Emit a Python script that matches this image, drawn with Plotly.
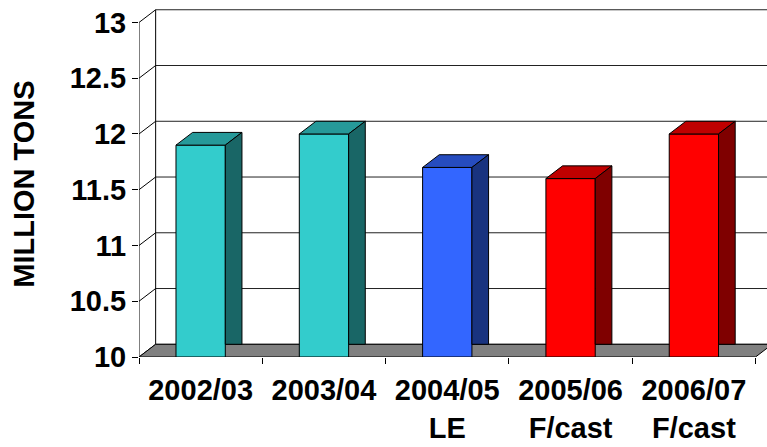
import plotly.graph_objects as go

# Chart data
seasons = ["2002/03", "2003/04", "2004/05", "2005/06", "2006/07"]
season_notes = ["", "", "LE", "F/cast", "F/cast"]
tonnes_m = [11.9, 12.0, 11.7, 11.6, 12.0]
bar_colors = ["#33CCCC", "#33CCCC", "#3366FF", "#FF0000", "#FF0000"]
y_ticks = [10, 10.5, 11, 11.5, 12, 12.5, 13]
y_tick_text = ["10", "10.5", "11", "11.5", "12", "12.5", "13"]

# Geometry of the 3D box (in axis units)
Y_MIN, Y_TOP, Y_MAX = 10, 13, 13.2015
X_MIN, X_MAX = -0.5, 4.593
DX, DY = 0.135, 0.114       # depth offset of walls and bars
HALF_W = 0.2                # half width of a bar front face
n = len(seasons)

FONT = dict(family="Liberation Sans, Arial, sans-serif", size=29, color="black", weight="bold")


def shade(hex_color, k):
    h = hex_color.lstrip("#")
    r, g, b = (int(h[i:i + 2], 16) for i in (0, 2, 4))
    return "#{:02X}{:02X}{:02X}".format(int(r * k), int(g * k), int(b * k))


fig = go.Figure()


def poly(xs, ys, fill, width=1):
    fig.add_trace(go.Scatter(
        x=list(xs) + [xs[0]], y=list(ys) + [ys[0]], mode="lines",
        fill="toself", fillcolor=fill, line=dict(color="black", width=width),
        hoverinfo="skip", showlegend=False))


def seg(xs, ys, color="black", width=1):
    fig.add_trace(go.Scatter(
        x=xs, y=ys, mode="lines", line=dict(color=color, width=width),
        hoverinfo="skip", showlegend=False))


# Back wall gridlines and left side wall
for v in y_ticks:
    seg([X_MIN + DX, X_MAX], [v + DY, v + DY], color="#222222")
    seg([X_MIN, X_MIN + DX], [v, v + DY])
seg([X_MIN + DX, X_MIN + DX], [Y_MIN + DY, Y_TOP + DY])
seg([X_MIN, X_MIN], [Y_MIN, Y_TOP])

# Floor
poly([X_MIN, n - 0.5, n - 0.5 + DX, X_MIN + DX],
     [Y_MIN, Y_MIN, Y_MIN + DY, Y_MIN + DY], "#808080")

# 3D bars: front, top and side faces
for i, (v, c) in enumerate(zip(tonnes_m, bar_colors)):
    x0, x1 = i - HALF_W, i + HALF_W
    poly([x0, x1, x1, x0], [Y_MIN, Y_MIN, v, v], c)
    poly([x0, x1, x1 + DX, x0 + DX], [v, v, v + DY, v + DY], shade(c, 0.75))
    poly([x1, x1 + DX, x1 + DX, x1], [Y_MIN + DY, Y_MIN + DY, v + DY, v], shade(c, 0.5))

tick_labels = [s if not note else f"{s}<br>{note}" for s, note in zip(seasons, season_notes)]

fig.update_layout(
    width=767, height=447,
    margin=dict(l=139, r=0, t=0, b=89.5),
    plot_bgcolor="white", paper_bgcolor="white",
    showlegend=False,
    xaxis=dict(
        range=[X_MIN, X_MAX], showgrid=False, zeroline=False, showline=False,
        tickmode="array", tickvals=list(range(n)), ticktext=tick_labels,
        ticks="", tickfont=FONT, ticklabelstandoff=13,
        minor=dict(tickmode="array", tickvals=[i - 0.5 for i in range(n + 1)],
                   ticks="outside", ticklen=6, tickcolor="black", tickwidth=1, showgrid=False),
        fixedrange=True,
    ),
    yaxis=dict(
        range=[Y_MIN, Y_MAX], showgrid=False, zeroline=False, showline=False,
        tickmode="array", tickvals=y_ticks, ticktext=y_tick_text,
        ticks="outside", ticklen=6, tickcolor="black", tickwidth=1,
        tickfont=FONT, fixedrange=True,
    ),
    annotations=[dict(
        text="MILLION TONS", textangle=-90, font=FONT,
        xref="paper", yref="paper", x=(24 - 139) / 628, y=(357.5 - 185) / 357.5,
        xanchor="center", yanchor="middle", showarrow=False,
    )],
)

fig.write_html("out.html")
